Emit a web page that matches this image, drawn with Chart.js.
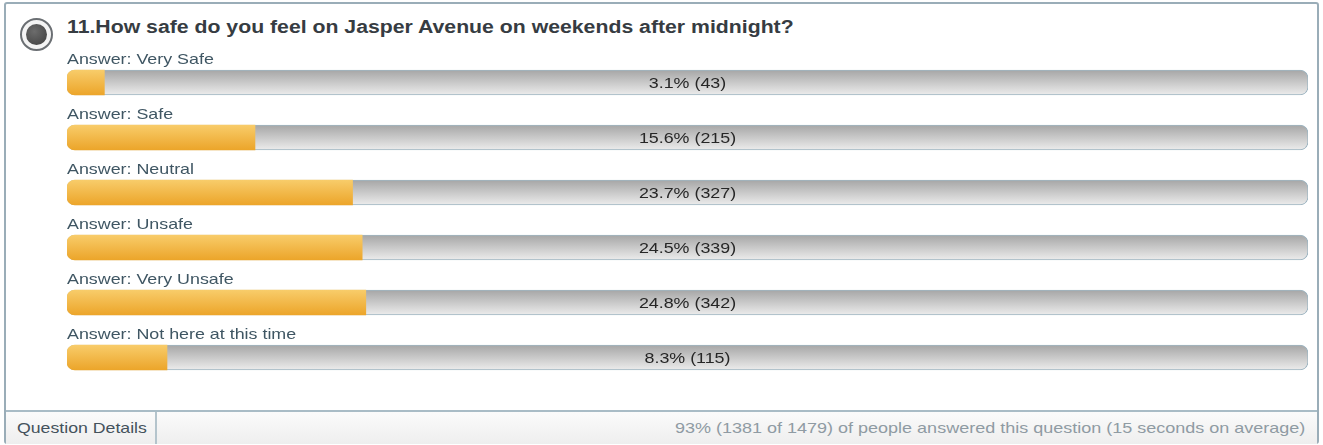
<!DOCTYPE html>
<html>
<head>
<meta charset="utf-8">
<script src="https://cdn.jsdelivr.net/npm/chart.js@4"></script>
<style>
    body { margin: 0; background: #fff; font-family: "Liberation Sans", Arial, sans-serif; }
    #wrap { position: relative; width: 1323px; height: 445px; overflow: hidden; }
    #frame { position: absolute; left: 4px; top: 2px; width: 1311px; height: 438px; border: 2px solid #9aadb8; border-radius: 3px; }
    #icon { position: absolute; left: 20px; top: 18px; width: 29px; height: 29px; border-radius: 50%; border: 2px solid #6b6f73; background: #f4f4f4; }
    #icon div { position: absolute; left: 4px; top: 4px; width: 21px; height: 21px; border-radius: 50%; background: radial-gradient(circle at 40% 35%, #6c6c6c, #3e3e3e); }
    #title { position: absolute; left: 67px; top: 17px; font-size: 18px; font-weight: bold; color: #363c42; white-space: nowrap; transform: scaleX(1.18); transform-origin: left top; }
    #footer { position: absolute; left: 6px; top: 410px; width: 1311px; height: 32px; border-top: 2px solid #a9bcc6; background: linear-gradient(#fbfbfb, #eeeeee); }
    #details { position: absolute; left: 11px; top: 0; line-height: 32px; font-size: 15px; color: #44525c; white-space: nowrap; transform: scaleX(1.18); transform-origin: left center; }
    #divider { position: absolute; left: 149px; top: 0; width: 2px; height: 32px; background: #b4c4cc; }
    #stats { position: absolute; right: 12px; top: 0; line-height: 32px; font-size: 15px; color: #8f9ba3; white-space: nowrap; transform: scaleX(1.2); transform-origin: right center; }
    canvas { position: absolute; left: 0; top: 0; }
</style>
</head>
<body>
<div id="wrap">
    <div id="frame"></div>
    <div id="icon"><div></div></div>
    <div id="title">11.How safe do you feel on Jasper Avenue on weekends after midnight?</div>
    <canvas id="myChart" width="1323" height="445"></canvas>
    <div id="footer">
        <div id="details">Question Details</div>
        <div id="divider"></div>
        <div id="stats">93% (1381 of 1479) of people answered this question (15 seconds on average)</div>
    </div>
</div>
<script>
const answers = ["Very Safe", "Safe", "Neutral", "Unsafe", "Very Unsafe", "Not here at this time"];
const percents = [3.1, 15.6, 23.7, 24.5, 24.8, 8.3];
const counts = [43, 215, 327, 339, 342, 115];
// the grey track runs a little past 100% in the original
const scaleMax = 103;

const BAR_H = 25;
const STRETCH = 1.19;

// vertical gradient for one bar row
function rowGradient(context, top, bottom) {
    const chart = context.chart;
    if (!chart.chartArea) return top;
    const yc = chart.scales.y.getPixelForValue(context.dataIndex);
    const g = chart.ctx.createLinearGradient(0, yc - BAR_H / 2, 0, yc + BAR_H / 2);
    g.addColorStop(0, top);
    g.addColorStop(1, bottom);
    return g;
}

function wideText(ctx, text, x, y) {
    ctx.save();
    ctx.translate(x, y);
    ctx.scale(STRETCH, 1);
    ctx.fillText(text, 0, 0);
    ctx.restore();
}

// answer captions and value text
const labelPlugin = {
    id: "labels",
    afterDatasetsDraw(chart) {
        const ctx = chart.ctx;
        const area = chart.chartArea;
        const yScale = chart.scales.y;
        const midX = (area.left + area.right) / 2;
        ctx.save();
        ctx.textBaseline = "middle";
        ctx.font = "15px 'Liberation Sans', Arial, sans-serif";
        answers.forEach((a, i) => {
            const y = yScale.getPixelForValue(i);
            ctx.fillStyle = "#3f5663";
            ctx.textAlign = "left";
            wideText(ctx, "Answer: " + a, area.left, y - 23);
            ctx.fillStyle = "#262626";
            ctx.textAlign = "center";
            wideText(ctx, percents[i] + "% (" + counts[i] + ")", midX, y + 1);
        });
        ctx.restore();
    }
};

const ctx = document.getElementById("myChart").getContext("2d");
const myChart = new Chart(ctx, {
    type: "bar",
    data: {
        labels: answers,
        datasets: [{
            data: percents,
            grouped: false,
            barThickness: BAR_H,
            borderSkipped: false,
            borderRadius: { topLeft: 8, bottomLeft: 8, topRight: 0, bottomRight: 0 },
            backgroundColor: (c) => rowGradient(c, "#f8cc6a", "#eca52a")
        }, {
            data: answers.map(() => scaleMax),
            grouped: false,
            barThickness: BAR_H,
            borderSkipped: false,
            borderRadius: 8,
            borderWidth: 1,
            borderColor: "#9fb6c2",
            backgroundColor: (c) => rowGradient(c, "#a6a6a6", "#ececec")
        }]
    },
    options: {
        indexAxis: "y",
        responsive: false,
        animation: false,
        layout: { padding: { left: 67, right: 15, top: 55, bottom: 60 } },
        scales: {
            x: { display: false, min: 0, max: scaleMax },
            y: { display: false }
        },
        plugins: {
            legend: { display: false },
            tooltip: { enabled: false }
        }
    },
    plugins: [labelPlugin]
});
</script>
</body>
</html>
